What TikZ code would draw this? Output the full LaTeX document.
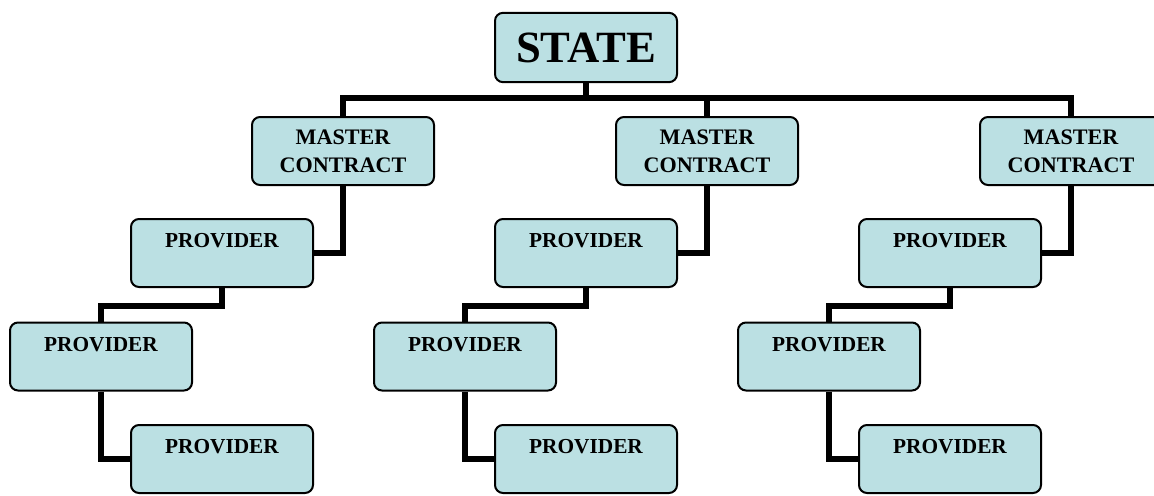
\documentclass[tikz,border=0pt]{standalone}
\usepackage{fontspec}
\setmainfont{Liberation Serif}
\definecolor{boxfill}{RGB}{187,224,227}

\tikzset{every picture/.style={line width=0.75pt}}
\tikzset{
  box/.style={draw, fill=boxfill, rounded corners=6pt, line width=1.5pt, inner sep=0pt,
    minimum width=136.5pt, minimum height=51pt, align=center,
    font=\bfseries\fontsize{16.6}{21}\selectfont},
  statebox/.style={box, minimum height=52pt, font=\bfseries\fontsize{33.5}{38}\selectfont},
  provbox/.style={box, minimum height=0pt, text height=21.5pt, text depth=29.5pt,
    font=\bfseries\fontsize{16}{20}\selectfont},
  conn/.style={line width=4.5pt},
}

\begin{document}
\begin{tikzpicture}[x=0.75pt,y=0.75pt,yscale=-1,xscale=1]
\useasboundingbox (0,0) rectangle (1154,496);

% Top box
\node [statebox] (state) at (586,47.5) {STATE};

% Master contracts
\node [box] (mcA) at (343,151) {MASTER\\CONTRACT};
\node [box] (mcB) at (707,151) {MASTER\\CONTRACT};
\node [box] (mcC) at (1071,151) {MASTER\\CONTRACT};

% Providers, left column
\node [provbox] (provA1) at (222,253) {PROVIDER};
\node [provbox] (provA2) at (101,356.5) {PROVIDER};
\node [provbox] (provA3) at (222,459) {PROVIDER};
% Providers, middle column
\node [provbox] (provB1) at (586,253) {PROVIDER};
\node [provbox] (provB2) at (465,356.5) {PROVIDER};
\node [provbox] (provB3) at (586,459) {PROVIDER};
% Providers, right column
\node [provbox] (provC1) at (950,253) {PROVIDER};
\node [provbox] (provC2) at (829,356.5) {PROVIDER};
\node [provbox] (provC3) at (950,459) {PROVIDER};

% Bus under the top box
\coordinate (bus) at (586,98);
\draw [conn] (state.south) -- (bus);
\draw [conn] (bus) -| (mcA.north);
\draw [conn] (bus) -| (mcB.north);
\draw [conn] (bus) -| (mcC.north);

% Elbow connectors
\draw [conn] (mcA.south) |- (provA1.east);
\draw [conn] (provA1.south) -- ++(0,18) -| (provA2.north);
\draw [conn] (provA2.south) |- (provA3.west);

\draw [conn] (mcB.south) |- (provB1.east);
\draw [conn] (provB1.south) -- ++(0,18) -| (provB2.north);
\draw [conn] (provB2.south) |- (provB3.west);

\draw [conn] (mcC.south) |- (provC1.east);
\draw [conn] (provC1.south) -- ++(0,18) -| (provC2.north);
\draw [conn] (provC2.south) |- (provC3.west);

\end{tikzpicture}
\end{document}
